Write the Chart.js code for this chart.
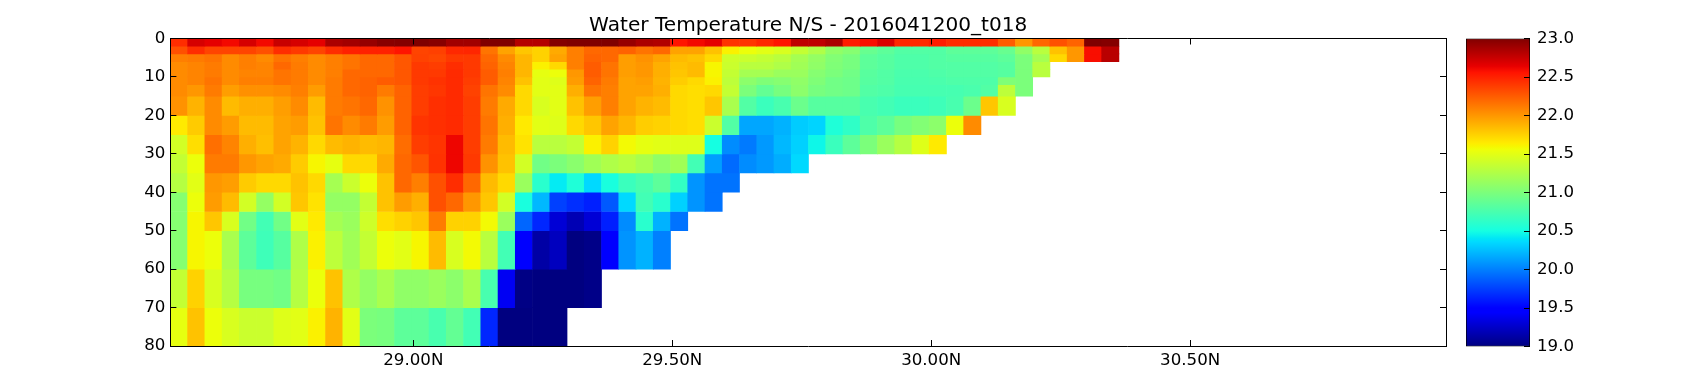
<!DOCTYPE html>
<html lang="en">

<head>
    <meta charset="UTF-8">
    <title>Water Temperature N/S - 2016041200_t018</title>
    <style>
        body { margin: 0; background: #fff; }
        canvas { position: absolute; top: 0; }
    </style>
</head>

<body>
    <canvas id="sectionChart" width="1460" height="384" style="left:0"></canvas>
    <canvas id="colorbarChart" width="240" height="384" style="left:1460px"></canvas>
    <script src="https://cdn.jsdelivr.net/npm/chart.js"></script>
    <script>
        const titleText = 'Water Temperature N/S - 2016041200_t018';

        // Column centres (latitude) and depth layer edges (m)
        const lats = [
            28.5476, 28.5809, 28.6142, 28.6475, 28.6808, 28.7141, 28.7474, 28.7807, 28.8140, 28.8473,
            28.8806, 28.9139, 28.9472, 28.9805, 29.0138, 29.0471, 29.0804, 29.1137, 29.1470, 29.1803,
            29.2136, 29.2469, 29.2802, 29.3135, 29.3468, 29.3801, 29.4134, 29.4467, 29.4800, 29.5133,
            29.5466, 29.5799, 29.6132, 29.6465, 29.6798, 29.7131, 29.7464, 29.7797, 29.8130, 29.8463,
            29.8796, 29.9129, 29.9462, 29.9795, 30.0128, 30.0461, 30.0794, 30.1127, 30.1460, 30.1793,
            30.2126, 30.2459, 30.2792, 30.3125, 30.3458
        ];
        const depthEdges = [0, 2, 4, 6, 8, 10, 12, 15, 20, 25, 30, 35, 40, 45, 50, 60, 70, 80];

        // Temperature per depth layer, north-going from the first column
        const layer00 = [22.45, 22.7, 22.65, 22.6, 22.7, 22.6, 22.75, 22.7, 22.65, 22.85, 22.88, 22.92, 22.97, 22.98, 23.0, 22.97, 22.88, 22.88, 23.0, 23.0, 22.82, 22.82, 22.98, 23.0, 23.0, 23.0, 22.92, 22.85, 22.83, 22.55, 22.6, 22.65, 22.42, 22.42, 22.48, 22.55, 22.78, 22.78, 22.85, 22.52, 22.58, 22.68, 22.47, 22.47, 22.52, 22.45, 22.45, 22.45, 22.25, 22.0, 22.2, 22.3, 22.22, 23.0, 22.98];
        const layer02 = [22.3, 22.45, 22.35, 22.35, 22.35, 22.3, 22.45, 22.4, 22.35, 22.45, 22.5, 22.5, 22.5, 22.55, 22.35, 22.37, 22.47, 22.48, 22.15, 21.95, 21.8, 21.75, 21.92, 22.1, 22.2, 22.2, 22.22, 22.15, 22.2, 21.95, 21.95, 21.82, 21.62, 21.55, 21.5, 21.45, 21.35, 21.25, 21.1, 21.05, 20.9, 20.85, 20.8, 20.8, 20.8, 20.85, 20.85, 20.85, 20.9, 21.1, 21.3, 21.82, 22.0, 22.58, 22.8];
        const layer04 = [22.1, 22.12, 22.15, 22.05, 22.1, 22.05, 22.15, 22.1, 22.05, 22.1, 22.15, 22.2, 22.2, 22.27, 22.36, 22.34, 22.4, 22.4, 22.2, 22.05, 21.87, 21.75, 21.95, 22.1, 22.22, 22.2, 21.97, 22.02, 21.95, 21.85, 21.82, 21.72, 21.4, 21.38, 21.35, 21.3, 21.2, 21.12, 21.03, 20.98, 20.85, 20.82, 20.78, 20.78, 20.8, 20.82, 20.82, 20.82, 20.85, 21.0, 21.2, 21.72, 22.0, 22.58, 22.8];
        const layer06 = [22.05, 22.08, 22.12, 22.05, 22.1, 22.08, 22.2, 22.12, 22.05, 22.1, 22.15, 22.2, 22.2, 22.27, 22.4, 22.38, 22.45, 22.4, 22.22, 22.08, 21.87, 21.62, 21.72, 22.1, 22.25, 22.15, 21.97, 22.0, 21.9, 21.82, 21.85, 21.6, 21.38, 21.3, 21.3, 21.25, 21.18, 21.1, 21.02, 20.98, 20.85, 20.82, 20.78, 20.78, 20.8, 20.8, 20.8, 20.8, 20.82, 21.0, 21.3];
        const layer08 = [22.05, 22.08, 22.12, 22.05, 22.08, 22.08, 22.15, 22.12, 22.05, 22.1, 22.2, 22.2, 22.2, 22.27, 22.4, 22.4, 22.46, 22.4, 22.25, 22.1, 21.87, 21.52, 21.55, 22.0, 22.25, 22.15, 21.97, 22.0, 21.9, 21.8, 21.85, 21.6, 21.35, 21.2, 21.2, 21.15, 21.15, 21.05, 21.0, 20.95, 20.83, 20.8, 20.76, 20.76, 20.78, 20.8, 20.8, 20.8, 20.82, 21.0, 21.3];
        const layer10 = [22.05, 22.08, 22.15, 22.05, 22.1, 22.1, 22.15, 22.12, 22.05, 22.12, 22.2, 22.22, 22.25, 22.27, 22.4, 22.43, 22.46, 22.38, 22.25, 22.08, 21.82, 21.5, 21.48, 21.98, 22.22, 22.12, 21.95, 21.97, 21.88, 21.77, 21.72, 21.62, 21.32, 21.08, 21.02, 21.05, 21.1, 21.02, 20.95, 20.93, 20.82, 20.8, 20.75, 20.75, 20.76, 20.78, 20.78, 20.78, 21.02, 21.0];
        const layer12 = [22.05, 22.0, 22.12, 21.97, 22.03, 22.03, 22.05, 22.1, 21.98, 22.12, 22.2, 22.22, 22.12, 22.22, 22.38, 22.41, 22.46, 22.36, 22.15, 22.05, 21.72, 21.5, 21.5, 21.9, 22.15, 22.1, 21.95, 21.95, 21.9, 21.72, 21.7, 21.72, 21.35, 21.0, 20.88, 20.98, 21.08, 20.98, 20.95, 20.93, 20.8, 20.78, 20.74, 20.74, 20.74, 20.74, 20.76, 20.8, 21.32, 21.0];
        const layer15 = [22.02, 21.88, 22.05, 21.85, 21.9, 21.9, 21.97, 22.05, 21.85, 22.12, 22.15, 22.2, 22.02, 22.22, 22.38, 22.44, 22.46, 22.38, 22.12, 21.92, 21.72, 21.45, 21.5, 21.82, 21.97, 22.1, 21.95, 21.88, 21.85, 21.72, 21.7, 21.8, 21.22, 20.8, 20.68, 20.75, 20.92, 20.82, 20.82, 20.82, 20.75, 20.72, 20.68, 20.68, 20.7, 20.75, 20.92, 21.8, 21.45];
        const layer20 = [21.65, 21.78, 22.05, 21.98, 21.85, 21.85, 21.95, 21.98, 21.82, 22.15, 22.05, 22.12, 21.98, 22.22, 22.42, 22.44, 22.46, 22.38, 22.15, 21.9, 21.65, 21.5, 21.48, 21.72, 21.8, 21.95, 21.87, 21.77, 21.75, 21.72, 21.7, 21.38, 20.8, 20.15, 20.15, 20.2, 20.3, 20.33, 20.55, 20.63, 20.78, 20.85, 20.98, 21.03, 21.08, 21.55, 22.05];
        const layer25 = [21.42, 21.7, 22.17, 22.08, 21.9, 21.83, 21.95, 21.88, 21.72, 21.85, 21.88, 21.85, 21.87, 22.18, 22.38, 22.42, 22.62, 22.38, 22.12, 21.85, 21.68, 21.3, 21.3, 21.35, 21.62, 21.75, 21.58, 21.52, 21.5, 21.48, 21.48, 20.5, 20.05, 19.98, 20.1, 20.22, 20.32, 20.47, 20.68, 20.85, 21.0, 21.15, 21.28, 21.48, 21.65];
        const layer30 = [21.35, 21.55, 22.12, 22.12, 22.0, 21.95, 21.92, 21.78, 21.6, 21.52, 21.72, 21.72, 21.92, 22.2, 22.28, 22.43, 22.62, 22.4, 22.02, 21.82, 21.42, 20.95, 21.0, 21.07, 21.18, 21.25, 21.3, 21.22, 21.1, 21.18, 20.72, 20.12, 19.92, 20.05, 20.1, 20.18, 20.35];
        const layer35 = [21.28, 21.5, 22.0, 21.97, 21.78, 21.72, 21.72, 21.82, 21.72, 21.2, 21.38, 21.55, 21.82, 22.2, 22.1, 22.3, 22.45, 22.2, 21.85, 21.72, 21.15, 20.6, 20.42, 20.55, 20.35, 20.52, 20.68, 20.75, 20.85, 20.65, 20.08, 19.95, 19.95];
        const layer40 = [21.05, 21.55, 21.98, 21.85, 21.42, 21.12, 21.42, 21.8, 21.68, 21.12, 21.12, 21.35, 21.82, 21.98, 21.9, 22.3, 22.2, 22.0, 21.8, 21.42, 20.52, 20.22, 19.75, 19.68, 19.62, 19.85, 20.35, 20.72, 20.6, 20.32, 20.08, 19.95];
        const layer45 = [21.05, 21.6, 21.8, 21.45, 20.95, 20.72, 20.95, 21.5, 21.65, 21.2, 21.15, 21.4, 21.7, 21.75, 21.8, 22.12, 21.75, 21.75, 21.58, 21.15, 19.9, 19.65, 19.3, 19.18, 19.3, 19.62, 20.05, 20.6, 20.2, 19.95];
        const layer50 = [21.05, 21.6, 21.55, 21.22, 20.85, 20.7, 20.82, 21.25, 21.62, 21.32, 21.18, 21.35, 21.55, 21.5, 21.6, 21.85, 21.45, 21.58, 21.3, 20.72, 19.45, 19.13, 19.22, 19.0, 19.03, 19.5, 20.08, 20.2, 20.0];
        const layer60 = [21.35, 21.75, 21.45, 21.28, 20.98, 20.98, 20.95, 21.28, 21.55, 21.82, 21.25, 21.12, 21.22, 21.1, 21.1, 21.15, 21.08, 21.22, 20.75, 19.4, 19.02, 19.0, 19.0, 19.0, 19.03];
        const layer70 = [21.52, 21.82, 21.55, 21.45, 21.38, 21.38, 21.48, 21.5, 21.62, 21.88, 21.5, 21.0, 20.98, 20.85, 20.85, 20.75, 20.88, 20.72, 19.65, 19.0, 19.0, 19.0, 19.0];
        const layers = [layer00, layer02, layer04, layer06, layer08, layer10, layer12, layer15, layer20,
            layer25, layer30, layer35, layer40, layer45, layer50, layer60, layer70];

        // Axis ticks
        const latTicks = [29, 29.5, 30, 30.5];
        const latTickLabels = ['29.00N', '29.50N', '30.00N', '30.50N'];
        const depthTicks = [0, 10, 20, 30, 40, 50, 60, 70, 80];
        const colorbarTicks = [19, 19.5, 20, 20.5, 21, 21.5, 22, 22.5, 23];
        const colorbarTickLabels = ['19.0', '19.5', '20.0', '20.5', '21.0', '21.5', '22.0', '22.5', '23.0'];

        const latMin = 28.531, latMax = 30.994;
        const tempMin = 19, tempMax = 23;
        const fontFamily = '"DejaVu Sans"';
        const tickFont = { family: fontFamily, size: 16.67 };

        // matplotlib jet segments
        const jetRed = [[0, 0], [0.35, 0], [0.66, 1], [0.89, 1], [1, 0.5]];
        const jetGreen = [[0, 0], [0.125, 0], [0.375, 1], [0.64, 1], [0.91, 0], [1, 0]];
        const jetBlue = [[0, 0.5], [0.11, 1], [0.34, 1], [0.65, 0], [1, 0]];

        function segment(stops, t) {
            for (let i = 1; i < stops.length; i++) {
                if (t <= stops[i][0]) {
                    const [x0, y0] = stops[i - 1];
                    const [x1, y1] = stops[i];
                    return y0 + (y1 - y0) * (t - x0) / (x1 - x0);
                }
            }
            return stops[stops.length - 1][1];
        }

        function jet(t) {
            t = Math.min(1, Math.max(0, t));
            const r = Math.round(255 * segment(jetRed, t));
            const g = Math.round(255 * segment(jetGreen, t));
            const b = Math.round(255 * segment(jetBlue, t));
            return `rgb(${r}, ${g}, ${b})`;
        }

        const tempColor = (v) => jet((v - tempMin) / (tempMax - tempMin));

        // Ticks point inwards and sit on top of the cells
        function inwardGrid() {
            return { drawOnChartArea: false, drawTicks: true, tickLength: -6, tickColor: '#000', tickWidth: 1, z: 1, offset: false };
        }

        const axisBorder = { display: true, color: '#000', width: 1, z: 1 };
        const setTicks = (values) => (scale) => { scale.ticks = values.map((value) => ({ value })); };
        const labelFrom = (values, labels) => (value) => labels[values.indexOf(value)];

        const datasets = layers.map((layer, i) => ({
            data: layer.map((temp, col) => ({ x: lats[col], y: [depthEdges[i], depthEdges[i + 1]] })),
            backgroundColor: layer.map(tempColor),
            borderWidth: 0,
            barPercentage: 1,
            categoryPercentage: 1,
            grouped: false
        }));

        new Chart(document.getElementById('sectionChart'), {
            type: 'bar',
            data: { datasets },
            options: {
                responsive: false,
                animation: false,
                events: [],
                layout: { padding: { left: 110.4, right: 14, top: 0, bottom: 0 } },
                plugins: {
                    legend: { display: false },
                    tooltip: { enabled: false },
                    title: {
                        display: true,
                        text: titleText,
                        color: '#000',
                        fullSize: false,
                        font: { family: fontFamily, size: 20.1, weight: 'normal', lineHeight: 1.2 },
                        padding: { top: 13.5, bottom: 0.9 }
                    }
                },
                scales: {
                    x: {
                        type: 'linear',
                        position: 'bottom',
                        offset: false,
                        min: latMin,
                        max: latMax,
                        afterBuildTicks: setTicks(latTicks),
                        afterFit: (scale) => { scale.height = 38; },
                        grid: inwardGrid(),
                        border: axisBorder,
                        ticks: { color: '#000', font: tickFont, padding: 11, maxRotation: 0, autoSkip: false, callback: labelFrom(latTicks, latTickLabels) }
                    },
                    xTop: {
                        type: 'linear',
                        axis: 'x',
                        position: 'top',
                        offset: false,
                        min: latMin,
                        max: latMax,
                        afterBuildTicks: setTicks(latTicks),
                        afterFit: (scale) => { scale.height = 0; },
                        grid: inwardGrid(),
                        border: axisBorder,
                        ticks: { display: false }
                    },
                    y: {
                        type: 'linear',
                        position: 'left',
                        reverse: true,
                        min: 0,
                        max: 80,
                        afterBuildTicks: setTicks(depthTicks),
                        afterFit: (scale) => { scale.width = 60; },
                        grid: inwardGrid(),
                        border: axisBorder,
                        ticks: { color: '#000', font: tickFont, padding: 11, callback: (value) => String(value) }
                    },
                    yRight: {
                        type: 'linear',
                        axis: 'y',
                        position: 'right',
                        reverse: true,
                        min: 0,
                        max: 80,
                        afterBuildTicks: setTicks(depthTicks),
                        afterFit: (scale) => { scale.width = 0; },
                        grid: inwardGrid(),
                        border: axisBorder,
                        ticks: { display: false }
                    }
                }
            }
        });

        // Colour bar: one floating bar filled with the jet gradient
        function colorbarGradient(context) {
            const { ctx, chartArea } = context.chart;
            if (!chartArea) return;
            const gradient = ctx.createLinearGradient(0, chartArea.bottom, 0, chartArea.top);
            const positions = [...jetRed, ...jetGreen, ...jetBlue].map((stop) => stop[0]);
            positions.forEach((t) => gradient.addColorStop(t, jet(t)));
            return gradient;
        }

        new Chart(document.getElementById('colorbarChart'), {
            type: 'bar',
            data: {
                labels: ['temp'],
                datasets: [{
                    data: [[tempMin, tempMax]],
                    backgroundColor: colorbarGradient,
                    borderColor: '#000',
                    borderWidth: 1,
                    borderSkipped: false,
                    barPercentage: 1,
                    categoryPercentage: 1
                }]
            },
            options: {
                responsive: false,
                animation: false,
                events: [],
                layout: { padding: { left: 6, right: 0, top: 38.5, bottom: 37.5 } },
                plugins: { legend: { display: false }, tooltip: { enabled: false } },
                scales: {
                    x: { display: false },
                    y: {
                        type: 'linear',
                        position: 'right',
                        min: tempMin,
                        max: tempMax,
                        afterBuildTicks: setTicks(colorbarTicks),
                        afterFit: (scale) => { scale.width = 170; },
                        grid: inwardGrid(),
                        border: { display: false },
                        ticks: { color: '#000', font: tickFont, padding: 13, callback: labelFrom(colorbarTicks, colorbarTickLabels) }
                    }
                }
            }
        });
    </script>
</body>

</html>
